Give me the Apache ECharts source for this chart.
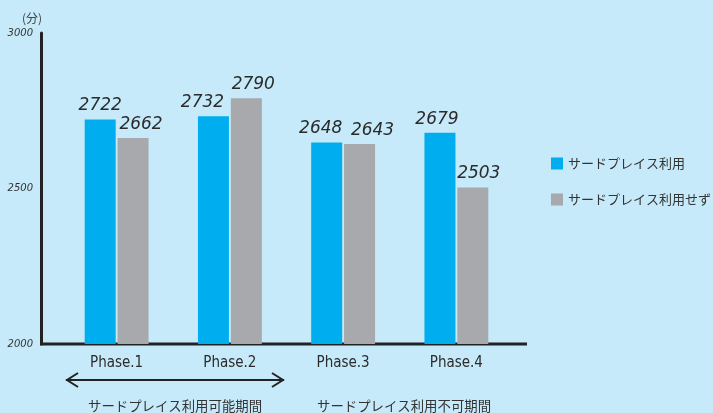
<!DOCTYPE html>
<html><head><meta charset="utf-8">
<script src="https://cdn.jsdelivr.net/npm/echarts@6/dist/echarts.min.js"></script>
<style>html,body{margin:0;padding:0;background:#c6eaf9;}#c{width:713px;height:413px;}</style>
</head><body><div id="c"></div>
<script>
const categories = ['Phase.1', 'Phase.2', 'Phase.3', 'Phase.4'];
const seriesNames = ['サードプレイス利用', 'サードプレイス利用せず'];
const usedValues = [2722, 2732, 2648, 2679];
const notUsedValues = [2662, 2790, 2643, 2503];
const yMin = 2000, yMax = 3000, yInterval = 500;
const periodLabels = ['サードプレイス利用可能期間', 'サードプレイス利用不可期間'];
const unitLabel = '(分)';

// horizontal nudges of the value labels (style only)
const usedLabelShift = [0, -11, -6, -3];
const notUsedLabelShift = [8, 7, 13, 6];

const chart = echarts.init(document.getElementById('c'), null, {renderer: 'canvas'});
const dark = '#2b2b2b';
const labelCfg = {
  show: true, position: 'top', distance: 5,
  fontFamily: 'DejaVu Sans', fontStyle: 'italic', fontSize: 17, color: dark
};
function withShift(values, shifts) {
  return values.map((v, i) => ({value: v, label: {offset: [shifts[i], 0]}}));
}
chart.setOption({
  backgroundColor: '#c6eaf9',
  animation: false,
  grid: {left: 60, right: 200, top: 33, bottom: 69},
  legend: {
    orient: 'vertical', left: 546, top: 152, itemGap: 23,
    itemWidth: 12, itemHeight: 12, icon: 'rect',
    textStyle: {fontFamily: 'Noto Sans CJK JP', fontSize: 13, color: '#333'},
    data: seriesNames
  },
  xAxis: {
    type: 'category', data: categories,
    axisLine: {show: false}, axisTick: {show: false},
    axisLabel: {margin: 12, fontFamily: 'DejaVu Sans Condensed', fontSize: 15, color: dark}
  },
  yAxis: {
    type: 'value', min: yMin, max: yMax, interval: yInterval, offset: 19,
    name: unitLabel, nameGap: 9,
    nameTextStyle: {fontFamily: 'Noto Sans CJK JP', fontSize: 12, color: '#444', align: 'right', padding: [0, -1, 0, 0]},
    axisLine: {show: true, lineStyle: {color: '#222', width: 3}},
    axisTick: {show: false}, splitLine: {show: false},
    axisLabel: {margin: 8, formatter: v => String(v), fontFamily: 'DejaVu Sans', fontStyle: 'italic', fontSize: 10, color: '#333'}
  },
  series: [
    {name: seriesNames[0], type: 'bar', data: withShift(usedValues, usedLabelShift), barWidth: 31, barGap: '6%',
     itemStyle: {color: '#00aeef'}, label: labelCfg},
    {name: seriesNames[1], type: 'bar', data: withShift(notUsedValues, notUsedLabelShift), barWidth: 31,
     itemStyle: {color: '#a7a9ac'}, label: labelCfg}
  ],
  graphic: [
    {type: 'line', shape: {x1: 40, y1: 344, x2: 527, y2: 344}, style: {stroke: '#222', lineWidth: 3}},
    {type: 'line', shape: {x1: 66, y1: 380, x2: 284, y2: 380}, style: {stroke: '#222', lineWidth: 2}},
    {type: 'polyline', shape: {points: [[78, 373], [67, 380], [78, 387]]}, style: {stroke: '#222', lineWidth: 2, fill: null}},
    {type: 'polyline', shape: {points: [[272, 373], [283, 380], [272, 387]]}, style: {stroke: '#222', lineWidth: 2, fill: null}},
    {type: 'text', left: 88, top: 399, style: {text: periodLabels[0], fontFamily: 'Noto Sans CJK JP', fontSize: 13.4, fill: '#333'}},
    {type: 'text', left: 317, top: 399, style: {text: periodLabels[1], fontFamily: 'Noto Sans CJK JP', fontSize: 13.4, fill: '#333'}}
  ]
});
</script></body></html>
